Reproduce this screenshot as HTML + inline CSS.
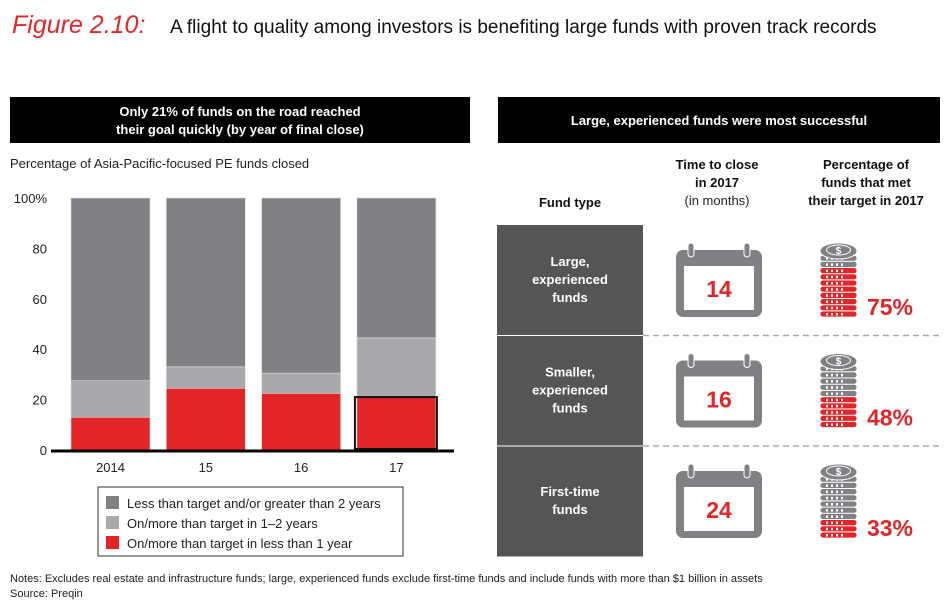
<!DOCTYPE html>
<html><head><meta charset="utf-8"><style>
body{margin:0;background:#fff;width:950px;height:609px;overflow:hidden;font-family:"Liberation Sans",sans-serif;}
svg text{font-family:"Liberation Sans",sans-serif;}
.n{font-family:"Liberation Sans Narrow","Liberation Sans",sans-serif;}
</style></head><body>
<svg id="c" width="950" height="609" xmlns="http://www.w3.org/2000/svg">
<text x="12" y="33" font-family="Liberation Serif" font-style="italic" font-size="25" fill="#e2262b">Figure 2.10:</text>
<text x="170" y="33" font-size="19" fill="#111">A flight to quality among investors is benefiting large funds with proven track records</text>
<rect x="10" y="97" width="460" height="46" fill="#000"/>
<text class="n" x="240" y="116" text-anchor="middle" font-size="13" font-weight="bold" fill="#fff">Only 21% of funds on the road reached</text>
<text class="n" x="240" y="134" text-anchor="middle" font-size="13" font-weight="bold" fill="#fff">their goal quickly (by year of final close)</text>
<rect x="498" y="97" width="442" height="46" fill="#000"/>
<text class="n" x="719" y="125" text-anchor="middle" font-size="13" font-weight="bold" fill="#fff">Large, experienced funds were most successful</text>
<text class="n" x="10" y="168" font-size="13" fill="#222">Percentage of Asia-Pacific-focused PE funds closed</text>
<g id="chart"></g>
<rect x="98" y="487" width="305" height="69" fill="#fff" stroke="#333" stroke-width="1"/>
<g><rect x="106" y="496" width="13" height="13" fill="#808184"/><text class="n" x="127" y="508" font-size="13" fill="#222">Less than target and/or greater than 2 years</text></g>
<g><rect x="106" y="516" width="13" height="13" fill="#a8a9ac"/><text class="n" x="127" y="528" font-size="13" fill="#222">On/more than target in 1–2 years</text></g>
<g><rect x="106" y="536" width="13" height="13" fill="#e32528"/><text class="n" x="127" y="548" font-size="13" fill="#222">On/more than target in less than 1 year</text></g>
<text class="n" x="570" y="207" text-anchor="middle" font-size="13" font-weight="bold" fill="#111">Fund type</text>
<text class="n" x="717" y="169" text-anchor="middle" font-size="13" font-weight="bold" fill="#111">Time to close</text>
<text class="n" x="717" y="187" text-anchor="middle" font-size="13" font-weight="bold" fill="#111">in 2017</text>
<text class="n" x="717" y="205" text-anchor="middle" font-size="13" fill="#222">(in months)</text>
<text class="n" x="866" y="169" text-anchor="middle" font-size="13" font-weight="bold" fill="#111">Percentage of</text>
<text class="n" x="866" y="187" text-anchor="middle" font-size="13" font-weight="bold" fill="#111">funds that met</text>
<text class="n" x="866" y="205" text-anchor="middle" font-size="13" font-weight="bold" fill="#111">their target in 2017</text>
<g id="table"></g>
<text class="n" x="10" y="582" font-size="11" fill="#222">Notes: Excludes real estate and infrastructure funds; large, experienced funds exclude first-time funds and include funds with more than $1 billion in assets</text>
<text class="n" x="10" y="597" font-size="11" fill="#222">Source: Preqin</text>
</svg>
<script>
const categories=["2014","15","16","17"];
const redVals=[13,24.5,22.5,21];
const lightVals=[14.5,8.5,8,23.5];
const darkVals=[72.5,67,69.5,55.5];
const yTicks=[0,20,40,60,80,100];
const fundTypes=[["Large,","experienced","funds"],["Smaller,","experienced","funds"],["First-time","funds"]];
const months=[14,16,24];
const pcts=[75,48,33];
const NS="http://www.w3.org/2000/svg";
function el(t,a,p){const e=document.createElementNS(NS,t);for(const k in a)e.setAttribute(k,a[k]);p.appendChild(e);return e;}
const y0=450,y1=198;
const yS=v=>y0-(v/100)*(y0-y1);
const xS=i=>71+i*95.3;
const bw=79;
const g=document.getElementById('chart');
yTicks.forEach(t=>{const tx=el('text',{x:47,y:yS(t)+5,'text-anchor':'end','font-size':13,fill:'#222'},g);tx.textContent=t===100?'100%':t;

});
categories.forEach((c,i)=>{
  const segs=[[0,redVals[i],'#e32528','red'],[redVals[i],redVals[i]+lightVals[i],'#a8a9ac','light'],[redVals[i]+lightVals[i],redVals[i]+lightVals[i]+darkVals[i],'#808184','dark']];
  segs.forEach(s=>{const r=el('rect',{x:xS(i),y:yS(s[1]),width:bw,height:yS(s[0])-yS(s[1]),fill:s[2],stroke:'#ddd','stroke-width':0.6},g);
  
  });
  if(i===3){const h=el('rect',{x:xS(i)-2,y:yS(redVals[i]),width:bw+3,height:yS(0)-yS(redVals[i])-1,fill:'none',stroke:'#111','stroke-width':2},g);
  
  }
  const t=el('text',{x:xS(i)+bw/2,y:472,'text-anchor':'middle','font-size':13,fill:'#222'},g);t.textContent=c;
  
  
});
const ax=el('line',{x1:51,x2:454,y1:y0+1,y2:y0+1,stroke:'#000','stroke-width':3},g);


const tb=document.getElementById('table');
fundTypes.forEach((f,i)=>{
  const top=225+i*110.5;
  const r=el('rect',{x:497,y:top,width:146,height:110.5,fill:'#555'},tb);
  
  
  if(i>0){const l=el('line',{x1:497,x2:643,y1:top,y2:top,stroke:'#fff','stroke-width':1},tb);}
  f.forEach((ln,j)=>{const t=el('text',{x:570,y:top+55-(f.length-1)*9+j*18+4,'text-anchor':'middle','font-size':13,'font-weight':'bold',fill:'#fff','class':'n'},tb);t.textContent=ln;});
  if(i<2){const d=el('line',{x1:643,x2:940,y1:top+110.5,y2:top+110.5,stroke:'#aaa','stroke-width':1.5,'stroke-dasharray':'6 4'},tb);
  
  }
  // calendar
  const cg=el('g',{},tb);
  
  
  el('rect',{x:676,y:top+25,width:86,height:67,rx:7,fill:'#808184'},cg);
  el('rect',{x:684,y:top+41,width:70,height:44,fill:'#fff'},cg);
  el('rect',{x:688,y:top+18,width:6,height:14,rx:3,fill:'#808184',stroke:'#fff','stroke-width':1},cg);
  el('rect',{x:744,y:top+18,width:6,height:14,rx:3,fill:'#808184',stroke:'#fff','stroke-width':1},cg);
  const mt=el('text',{x:719,y:top+72,'text-anchor':'middle','font-size':23,'font-weight':'bold',fill:'#e32528'},cg);mt.textContent=months[i];
  // coins
  const kg=el('g',{},tb);
  
  
  const n=10,nRed=Math.round(pcts[i]/10);
  for(let k=0;k<n;k++){
    const cy=top+92-k*6.2;
    const col=k<nRed?'#e32528':'#808184';
    el('rect',{x:820,y:cy-6,width:37,height:6,rx:3,fill:col,stroke:'#fff','stroke-width':0.8},kg);
    for(let q=0;q<4;q++)el('rect',{x:826+q*5,y:cy-4,width:2,height:2.5,fill:'#fff'},kg);
  }
  const ty=top+92-n*6.2;
  el('ellipse',{cx:838.5,cy:ty-4,rx:18.5,ry:8,fill:'#808184',stroke:'#fff','stroke-width':1},kg);
  el('ellipse',{cx:838.5,cy:ty-5,rx:12,ry:5,fill:'none',stroke:'#fff','stroke-width':1},kg);
  const ds=el('text',{x:838.5,y:ty-1,'text-anchor':'middle','font-size':10,'font-weight':'bold',fill:'#fff'},kg);ds.textContent='$';
  const pt=el('text',{x:890,y:top+90,'text-anchor':'middle','font-size':23,'font-weight':'bold',fill:'#e32528'},tb);pt.textContent=pcts[i]+'%';
  
  
});
</script>
</body></html>
